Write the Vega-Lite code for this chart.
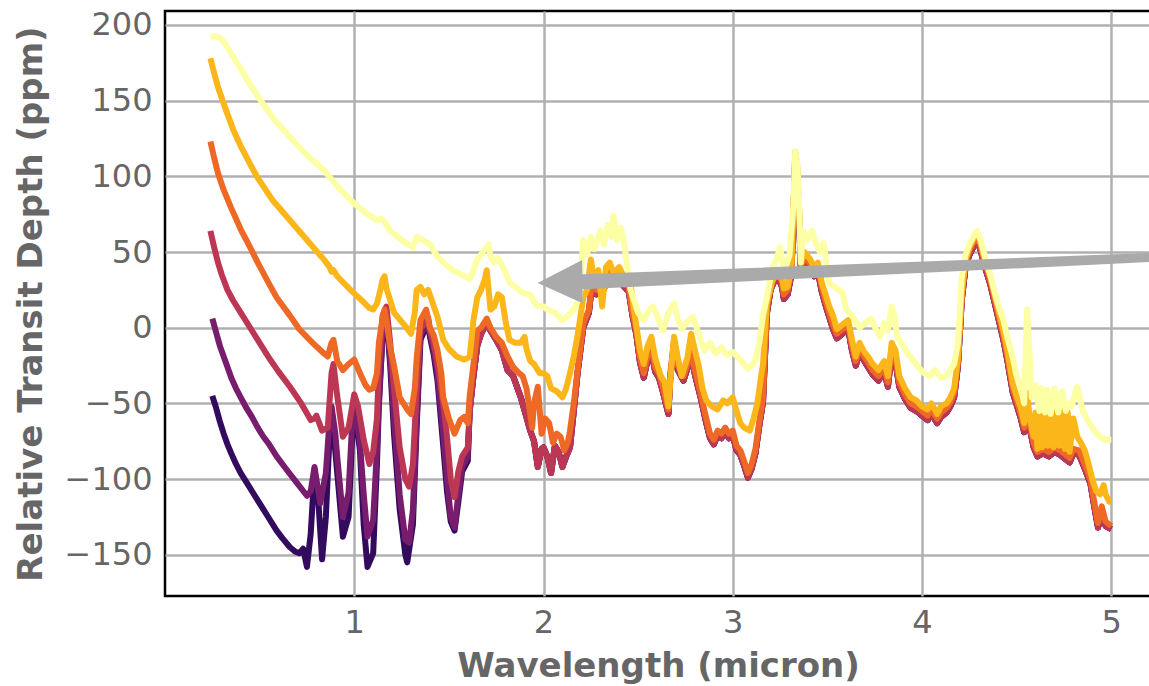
{
"$schema":"https://vega.github.io/schema/vega-lite/v6.json",
"width":986,"height":585,
"autosize":{"type":"none"},
"padding":{"left":165,"top":11,"right":0,"bottom":90},
"background":"white",
"config":{"view":{"stroke":"black","strokeWidth":2.5},"font":"DejaVu Sans"},
"datasets":{
"arrow":[{"w":2.211,"d":30.4},{"w":5.2,"d":46.4}],
"head":[{"w":2.088,"d":30.5}],
"spectra":[
{"s":"a","w":0.25,"d":-45},{"s":"a","w":0.27,"d":-53},{"s":"a","w":0.29,"d":-62},{"s":"a","w":0.31,"d":-70},{"s":"a","w":0.33,"d":-77},{"s":"a","w":0.35,"d":-83},{"s":"a","w":0.375,"d":-90},{"s":"a","w":0.40,"d":-96},{"s":"a","w":0.43,"d":-102},{"s":"a","w":0.46,"d":-108},{"s":"a","w":0.49,"d":-114},{"s":"a","w":0.52,"d":-120},{"s":"a","w":0.55,"d":-126},{"s":"a","w":0.59,"d":-134},{"s":"a","w":0.62,"d":-139},{"s":"a","w":0.66,"d":-145},{"s":"a","w":0.69,"d":-148},{"s":"a","w":0.71,"d":-149},{"s":"a","w":0.73,"d":-146},{"s":"a","w":0.75,"d":-158},{"s":"a","w":0.77,"d":-136},{"s":"a","w":0.79,"d":-94},{"s":"a","w":0.81,"d":-114},{"s":"a","w":0.83,"d":-153},{"s":"a","w":0.85,"d":-125},{"s":"a","w":0.87,"d":-70},{"s":"a","w":0.88,"d":-54},{"s":"a","w":0.91,"d":-96},{"s":"a","w":0.94,"d":-138},{"s":"a","w":0.97,"d":-125},{"s":"a","w":0.99,"d":-70},{"s":"a","w":1.00,"d":-52},{"s":"a","w":1.03,"d":-81},{"s":"a","w":1.05,"d":-130},{"s":"a","w":1.07,"d":-158},{"s":"a","w":1.10,"d":-149},{"s":"a","w":1.12,"d":-90},{"s":"a","w":1.13,"d":-52},{"s":"a","w":1.15,"d":-4},{"s":"a","w":1.17,"d":8},{"s":"a","w":1.19,"d":-25},{"s":"a","w":1.21,"d":-70},{"s":"a","w":1.24,"d":-120},{"s":"a","w":1.27,"d":-150},{"s":"a","w":1.28,"d":-155},{"s":"a","w":1.31,"d":-130},{"s":"a","w":1.33,"d":-65},{"s":"a","w":1.35,"d":-8},{"s":"a","w":1.37,"d":-2},{"s":"a","w":1.39,"d":2},{"s":"a","w":1.40,"d":-6},{"s":"a","w":1.42,"d":-18},{"s":"a","w":1.44,"d":-35},{"s":"a","w":1.47,"d":-78},{"s":"a","w":1.49,"d":-108},{"s":"a","w":1.51,"d":-128},{"s":"a","w":1.53,"d":-134},{"s":"a","w":1.55,"d":-115},{"s":"a","w":1.57,"d":-95},{"s":"a","w":1.60,"d":-88},
{"s":"a","w":1.61,"d":-55},{"s":"a","w":1.63,"d":-32},{"s":"a","w":1.65,"d":-12},{"s":"a","w":1.67,"d":-4},{"s":"a","w":1.70,"d":3},{"s":"a","w":1.72,"d":-2},{"s":"a","w":1.75,"d":-8},{"s":"a","w":1.78,"d":-15},{"s":"a","w":1.81,"d":-28},{"s":"a","w":1.84,"d":-32},{"s":"a","w":1.88,"d":-46},{"s":"a","w":1.91,"d":-59},{"s":"a","w":1.93,"d":-68},{"s":"a","w":1.95,"d":-75},{"s":"a","w":1.97,"d":-92},{"s":"a","w":1.99,"d":-80},{"s":"a","w":2.00,"d":-79},{"s":"a","w":2.02,"d":-85},{"s":"a","w":2.04,"d":-96},{"s":"a","w":2.06,"d":-78},{"s":"a","w":2.08,"d":-82},{"s":"a","w":2.10,"d":-92},{"s":"a","w":2.12,"d":-85},{"s":"a","w":2.14,"d":-79},{"s":"a","w":2.16,"d":-55},{"s":"a","w":2.18,"d":-30},{"s":"a","w":2.21,"d":0},{"s":"a","w":2.24,"d":10},{"s":"a","w":2.26,"d":33},{"s":"a","w":2.28,"d":22},{"s":"a","w":2.30,"d":28},{"s":"a","w":2.32,"d":26},{"s":"a","w":2.35,"d":35},{"s":"a","w":2.37,"d":30},{"s":"a","w":2.40,"d":33},{"s":"a","w":2.42,"d":28},{"s":"a","w":2.45,"d":24},{"s":"a","w":2.47,"d":8},{"s":"a","w":2.49,"d":-4},{"s":"a","w":2.51,"d":-23},{"s":"a","w":2.53,"d":-33},{"s":"a","w":2.55,"d":-21},{"s":"a","w":2.57,"d":-16},{"s":"a","w":2.59,"d":-29},{"s":"a","w":2.61,"d":-33},{"s":"a","w":2.63,"d":-42},{"s":"a","w":2.66,"d":-57},{"s":"a","w":2.67,"d":-33},{"s":"a","w":2.69,"d":-11},{"s":"a","w":2.71,"d":-28},{"s":"a","w":2.74,"d":-35},{"s":"a","w":2.76,"d":-27},{"s":"a","w":2.78,"d":-18},{"s":"a","w":2.80,"d":-31},{"s":"a","w":2.83,"d":-46},{"s":"a","w":2.86,"d":-63},{"s":"a","w":2.88,"d":-73},{"s":"a","w":2.90,"d":-77},{"s":"a","w":2.92,"d":-71},{"s":"a","w":2.94,"d":-73},{"s":"a","w":2.96,"d":-69},{"s":"a","w":2.98,"d":-73},{"s":"a","w":3.00,"d":-71},{"s":"a","w":3.02,"d":-81},{"s":"a","w":3.04,"d":-84},{"s":"a","w":3.06,"d":-91},{"s":"a","w":3.08,"d":-99},{"s":"a","w":3.10,"d":-93},{"s":"a","w":3.12,"d":-83},{"s":"a","w":3.14,"d":-65},{"s":"a","w":3.16,"d":-49},{"s":"a","w":3.18,"d":9},{"s":"a","w":3.20,"d":25},{"s":"a","w":3.22,"d":31},{"s":"a","w":3.24,"d":33},{"s":"a","w":3.26,"d":27},{"s":"a","w":3.27,"d":19},{"s":"a","w":3.29,"d":22},{"s":"a","w":3.31,"d":35},{"s":"a","w":3.33,"d":111},{"s":"a","w":3.34,"d":102},{"s":"a","w":3.35,"d":75},{"s":"a","w":3.36,"d":37},{"s":"a","w":3.38,"d":44},{"s":"a","w":3.41,"d":39},{"s":"a","w":3.43,"d":34},{"s":"a","w":3.45,"d":37},{"s":"a","w":3.47,"d":24},{"s":"a","w":3.49,"d":15},{"s":"a","w":3.51,"d":7},{"s":"a","w":3.53,"d":-1},{"s":"a","w":3.55,"d":-7},{"s":"a","w":3.58,"d":-4},{"s":"a","w":3.61,"d":-1},{"s":"a","w":3.63,"d":-15},{"s":"a","w":3.65,"d":-25},{"s":"a","w":3.67,"d":-16},{"s":"a","w":3.69,"d":-21},{"s":"a","w":3.72,"d":-27},{"s":"a","w":3.74,"d":-31},{"s":"a","w":3.77,"d":-35},{"s":"a","w":3.80,"d":-29},{"s":"a","w":3.82,"d":-39},{"s":"a","w":3.84,"d":-17},{"s":"a","w":3.86,"d":-23},{"s":"a","w":3.88,"d":-39},{"s":"a","w":3.91,"d":-47},{"s":"a","w":3.94,"d":-53},{"s":"a","w":3.97,"d":-55},{"s":"a","w":4.00,"d":-58},{"s":"a","w":4.03,"d":-61},{"s":"a","w":4.05,"d":-57},{"s":"a","w":4.08,"d":-63},{"s":"a","w":4.10,"d":-59},{"s":"a","w":4.13,"d":-56},{"s":"a","w":4.15,"d":-52},{"s":"a","w":4.17,"d":-46},{"s":"a","w":4.19,"d":-25},{"s":"a","w":4.21,"d":18},{"s":"a","w":4.23,"d":40},{"s":"a","w":4.25,"d":48},{"s":"a","w":4.27,"d":53},{"s":"a","w":4.29,"d":58},{"s":"a","w":4.31,"d":51},{"s":"a","w":4.33,"d":41},{"s":"a","w":4.36,"d":29},{"s":"a","w":4.40,"d":8},{"s":"a","w":4.43,"d":-8},{"s":"a","w":4.45,"d":-21},{"s":"a","w":4.48,"d":-43},{"s":"a","w":4.50,"d":-51},{"s":"a","w":4.52,"d":-59},{"s":"a","w":4.54,"d":-69},{"s":"a","w":4.555,"d":-50},{"s":"a","w":4.57,"d":-67},{"s":"a","w":4.59,"d":-79},{"s":"a","w":4.61,"d":-85},{"s":"a","w":4.64,"d":-83},{"s":"a","w":4.67,"d":-85},{"s":"a","w":4.70,"d":-82},{"s":"a","w":4.73,"d":-84},{"s":"a","w":4.76,"d":-87},{"s":"a","w":4.78,"d":-89},{"s":"a","w":4.80,"d":-83},{"s":"a","w":4.83,"d":-84},{"s":"a","w":4.86,"d":-93},{"s":"a","w":4.89,"d":-103},{"s":"a","w":4.91,"d":-118},{"s":"a","w":4.93,"d":-132},{"s":"a","w":4.95,"d":-121},{"s":"a","w":4.97,"d":-131},{"s":"a","w":5.00,"d":-133},
{"s":"b","w":0.25,"d":6},{"s":"b","w":0.27,"d":-3},{"s":"b","w":0.29,"d":-12},{"s":"b","w":0.31,"d":-19},{"s":"b","w":0.33,"d":-26},{"s":"b","w":0.35,"d":-33},{"s":"b","w":0.375,"d":-40},{"s":"b","w":0.40,"d":-46},{"s":"b","w":0.43,"d":-53},{"s":"b","w":0.46,"d":-59},{"s":"b","w":0.49,"d":-66},{"s":"b","w":0.52,"d":-72},{"s":"b","w":0.55,"d":-77},{"s":"b","w":0.59,"d":-85},{"s":"b","w":0.62,"d":-90},{"s":"b","w":0.65,"d":-95},{"s":"b","w":0.70,"d":-103},{"s":"b","w":0.75,"d":-111},{"s":"b","w":0.77,"d":-108},{"s":"b","w":0.79,"d":-92},{"s":"b","w":0.80,"d":-100},{"s":"b","w":0.82,"d":-116},{"s":"b","w":0.85,"d":-96},{"s":"b","w":0.87,"d":-60},{"s":"b","w":0.88,"d":-52},{"s":"b","w":0.90,"d":-70},{"s":"b","w":0.91,"d":-85},{"s":"b","w":0.94,"d":-125},{"s":"b","w":0.97,"d":-109},{"s":"b","w":0.99,"d":-60},{"s":"b","w":1.00,"d":-48},{"s":"b","w":1.03,"d":-76},{"s":"b","w":1.05,"d":-110},{"s":"b","w":1.07,"d":-138},{"s":"b","w":1.10,"d":-127},{"s":"b","w":1.12,"d":-80},{"s":"b","w":1.13,"d":-48},{"s":"b","w":1.15,"d":-4},{"s":"b","w":1.17,"d":10},{"s":"b","w":1.19,"d":-20},{"s":"b","w":1.21,"d":-60},{"s":"b","w":1.24,"d":-110},{"s":"b","w":1.27,"d":-140},{"s":"b","w":1.29,"d":-142},{"s":"b","w":1.31,"d":-120},{"s":"b","w":1.33,"d":-60},{"s":"b","w":1.35,"d":-5},{"s":"b","w":1.37,"d":0},{"s":"b","w":1.39,"d":4},{"s":"b","w":1.40,"d":-4},{"s":"b","w":1.42,"d":-15},{"s":"b","w":1.44,"d":-30},{"s":"b","w":1.47,"d":-70},{"s":"b","w":1.49,"d":-100},{"s":"b","w":1.51,"d":-125},{"s":"b","w":1.53,"d":-132},{"s":"b","w":1.55,"d":-110},{"s":"b","w":1.57,"d":-92},{"s":"b","w":1.60,"d":-85},
{"s":"b","w":1.61,"d":-55},{"s":"b","w":1.63,"d":-32},{"s":"b","w":1.65,"d":-12},{"s":"b","w":1.67,"d":-4},{"s":"b","w":1.70,"d":3},{"s":"b","w":1.72,"d":-2},{"s":"b","w":1.75,"d":-8},{"s":"b","w":1.78,"d":-15},{"s":"b","w":1.81,"d":-28},{"s":"b","w":1.84,"d":-32},{"s":"b","w":1.88,"d":-46},{"s":"b","w":1.91,"d":-59},{"s":"b","w":1.93,"d":-68},{"s":"b","w":1.95,"d":-75},{"s":"b","w":1.97,"d":-92},{"s":"b","w":1.99,"d":-80},{"s":"b","w":2.00,"d":-79},{"s":"b","w":2.02,"d":-85},{"s":"b","w":2.04,"d":-96},{"s":"b","w":2.06,"d":-78},{"s":"b","w":2.08,"d":-82},{"s":"b","w":2.10,"d":-92},{"s":"b","w":2.12,"d":-85},{"s":"b","w":2.14,"d":-79},{"s":"b","w":2.16,"d":-55},{"s":"b","w":2.18,"d":-30},{"s":"b","w":2.21,"d":0},{"s":"b","w":2.24,"d":10},{"s":"b","w":2.26,"d":33},{"s":"b","w":2.28,"d":22},{"s":"b","w":2.30,"d":28},{"s":"b","w":2.32,"d":26},{"s":"b","w":2.35,"d":35},{"s":"b","w":2.37,"d":30},{"s":"b","w":2.40,"d":33},{"s":"b","w":2.42,"d":28},{"s":"b","w":2.45,"d":24},{"s":"b","w":2.47,"d":8},{"s":"b","w":2.49,"d":-4},{"s":"b","w":2.51,"d":-23},{"s":"b","w":2.53,"d":-33},{"s":"b","w":2.55,"d":-21},{"s":"b","w":2.57,"d":-16},{"s":"b","w":2.59,"d":-29},{"s":"b","w":2.61,"d":-33},{"s":"b","w":2.63,"d":-42},{"s":"b","w":2.66,"d":-57},{"s":"b","w":2.67,"d":-33},{"s":"b","w":2.69,"d":-11},{"s":"b","w":2.71,"d":-28},{"s":"b","w":2.74,"d":-35},{"s":"b","w":2.76,"d":-27},{"s":"b","w":2.78,"d":-18},{"s":"b","w":2.80,"d":-31},{"s":"b","w":2.83,"d":-46},{"s":"b","w":2.86,"d":-63},{"s":"b","w":2.88,"d":-73},{"s":"b","w":2.90,"d":-77},{"s":"b","w":2.92,"d":-71},{"s":"b","w":2.94,"d":-73},{"s":"b","w":2.96,"d":-69},{"s":"b","w":2.98,"d":-73},{"s":"b","w":3.00,"d":-71},{"s":"b","w":3.02,"d":-81},{"s":"b","w":3.04,"d":-84},{"s":"b","w":3.06,"d":-91},{"s":"b","w":3.08,"d":-99},{"s":"b","w":3.10,"d":-93},{"s":"b","w":3.12,"d":-83},{"s":"b","w":3.14,"d":-65},{"s":"b","w":3.16,"d":-49},{"s":"b","w":3.18,"d":9},{"s":"b","w":3.20,"d":25},{"s":"b","w":3.22,"d":31},{"s":"b","w":3.24,"d":33},{"s":"b","w":3.26,"d":27},{"s":"b","w":3.27,"d":19},{"s":"b","w":3.29,"d":22},{"s":"b","w":3.31,"d":35},{"s":"b","w":3.33,"d":111},{"s":"b","w":3.34,"d":102},{"s":"b","w":3.35,"d":75},{"s":"b","w":3.36,"d":37},{"s":"b","w":3.38,"d":44},{"s":"b","w":3.41,"d":39},{"s":"b","w":3.43,"d":34},{"s":"b","w":3.45,"d":37},{"s":"b","w":3.47,"d":24},{"s":"b","w":3.49,"d":15},{"s":"b","w":3.51,"d":7},{"s":"b","w":3.53,"d":-1},{"s":"b","w":3.55,"d":-7},{"s":"b","w":3.58,"d":-4},{"s":"b","w":3.61,"d":-1},{"s":"b","w":3.63,"d":-15},{"s":"b","w":3.65,"d":-25},{"s":"b","w":3.67,"d":-16},{"s":"b","w":3.69,"d":-21},{"s":"b","w":3.72,"d":-27},{"s":"b","w":3.74,"d":-31},{"s":"b","w":3.77,"d":-35},{"s":"b","w":3.80,"d":-29},{"s":"b","w":3.82,"d":-39},{"s":"b","w":3.84,"d":-17},{"s":"b","w":3.86,"d":-23},{"s":"b","w":3.88,"d":-39},{"s":"b","w":3.91,"d":-47},{"s":"b","w":3.94,"d":-53},{"s":"b","w":3.97,"d":-55},{"s":"b","w":4.00,"d":-58},{"s":"b","w":4.03,"d":-61},{"s":"b","w":4.05,"d":-57},{"s":"b","w":4.08,"d":-63},{"s":"b","w":4.10,"d":-59},{"s":"b","w":4.13,"d":-56},{"s":"b","w":4.15,"d":-52},{"s":"b","w":4.17,"d":-46},{"s":"b","w":4.19,"d":-25},{"s":"b","w":4.21,"d":18},{"s":"b","w":4.23,"d":40},{"s":"b","w":4.25,"d":48},{"s":"b","w":4.27,"d":53},{"s":"b","w":4.29,"d":58},{"s":"b","w":4.31,"d":51},{"s":"b","w":4.33,"d":41},{"s":"b","w":4.36,"d":29},{"s":"b","w":4.40,"d":8},{"s":"b","w":4.43,"d":-8},{"s":"b","w":4.45,"d":-21},{"s":"b","w":4.48,"d":-43},{"s":"b","w":4.50,"d":-51},{"s":"b","w":4.52,"d":-59},{"s":"b","w":4.54,"d":-69},{"s":"b","w":4.555,"d":-50},{"s":"b","w":4.57,"d":-67},{"s":"b","w":4.59,"d":-79},{"s":"b","w":4.61,"d":-85},{"s":"b","w":4.64,"d":-83},{"s":"b","w":4.67,"d":-85},{"s":"b","w":4.70,"d":-82},{"s":"b","w":4.73,"d":-84},{"s":"b","w":4.76,"d":-87},{"s":"b","w":4.78,"d":-89},{"s":"b","w":4.80,"d":-83},{"s":"b","w":4.83,"d":-84},{"s":"b","w":4.86,"d":-93},{"s":"b","w":4.89,"d":-103},{"s":"b","w":4.91,"d":-118},{"s":"b","w":4.93,"d":-132},{"s":"b","w":4.95,"d":-121},{"s":"b","w":4.97,"d":-131},{"s":"b","w":5.00,"d":-133},
{"s":"c","w":0.24,"d":64},{"s":"c","w":0.26,"d":53},{"s":"c","w":0.28,"d":43},{"s":"c","w":0.30,"d":35},{"s":"c","w":0.33,"d":25},{"s":"c","w":0.36,"d":18},{"s":"c","w":0.40,"d":10},{"s":"c","w":0.45,"d":0},{"s":"c","w":0.49,"d":-8},{"s":"c","w":0.55,"d":-20},{"s":"c","w":0.60,"d":-29},{"s":"c","w":0.66,"d":-39},{"s":"c","w":0.72,"d":-50},{"s":"c","w":0.77,"d":-61},{"s":"c","w":0.79,"d":-60},{"s":"c","w":0.80,"d":-58},{"s":"c","w":0.83,"d":-68},{"s":"c","w":0.86,"d":-66},{"s":"c","w":0.88,"d":-30},{"s":"c","w":0.89,"d":-24},{"s":"c","w":0.91,"d":-45},{"s":"c","w":0.94,"d":-72},{"s":"c","w":0.97,"d":-66},{"s":"c","w":1.00,"d":-44},{"s":"c","w":1.02,"d":-52},{"s":"c","w":1.05,"d":-74},{"s":"c","w":1.08,"d":-90},{"s":"c","w":1.10,"d":-82},{"s":"c","w":1.12,"d":-60},{"s":"c","w":1.13,"d":-26},{"s":"c","w":1.15,"d":8},{"s":"c","w":1.17,"d":14},{"s":"c","w":1.19,"d":-10},{"s":"c","w":1.21,"d":-40},{"s":"c","w":1.24,"d":-79},{"s":"c","w":1.27,"d":-100},{"s":"c","w":1.29,"d":-105},{"s":"c","w":1.31,"d":-90},{"s":"c","w":1.33,"d":-40},{"s":"c","w":1.35,"d":0},{"s":"c","w":1.37,"d":2},{"s":"c","w":1.39,"d":7},{"s":"c","w":1.40,"d":-2},{"s":"c","w":1.42,"d":-10},{"s":"c","w":1.44,"d":-24},{"s":"c","w":1.47,"d":-50},{"s":"c","w":1.49,"d":-72},{"s":"c","w":1.51,"d":-100},{"s":"c","w":1.53,"d":-112},{"s":"c","w":1.55,"d":-95},{"s":"c","w":1.57,"d":-85},{"s":"c","w":1.60,"d":-79},
{"s":"c","w":1.61,"d":-55},{"s":"c","w":1.63,"d":-32},{"s":"c","w":1.65,"d":-12},{"s":"c","w":1.67,"d":-4},{"s":"c","w":1.70,"d":3},{"s":"c","w":1.72,"d":-2},{"s":"c","w":1.75,"d":-8},{"s":"c","w":1.78,"d":-15},{"s":"c","w":1.81,"d":-28},{"s":"c","w":1.84,"d":-32},{"s":"c","w":1.88,"d":-46},{"s":"c","w":1.91,"d":-59},{"s":"c","w":1.93,"d":-68},{"s":"c","w":1.95,"d":-75},{"s":"c","w":1.97,"d":-92},{"s":"c","w":1.99,"d":-80},{"s":"c","w":2.00,"d":-79},{"s":"c","w":2.02,"d":-85},{"s":"c","w":2.04,"d":-96},{"s":"c","w":2.06,"d":-78},{"s":"c","w":2.08,"d":-82},{"s":"c","w":2.10,"d":-92},{"s":"c","w":2.12,"d":-85},{"s":"c","w":2.14,"d":-79},{"s":"c","w":2.16,"d":-55},{"s":"c","w":2.18,"d":-30},{"s":"c","w":2.21,"d":0},{"s":"c","w":2.24,"d":10},{"s":"c","w":2.26,"d":33},{"s":"c","w":2.28,"d":22},{"s":"c","w":2.30,"d":28},{"s":"c","w":2.32,"d":26},{"s":"c","w":2.35,"d":35},{"s":"c","w":2.37,"d":30},{"s":"c","w":2.40,"d":33},{"s":"c","w":2.42,"d":28},{"s":"c","w":2.45,"d":24},{"s":"c","w":2.47,"d":8},{"s":"c","w":2.49,"d":-4},{"s":"c","w":2.51,"d":-23},{"s":"c","w":2.53,"d":-33},{"s":"c","w":2.55,"d":-21},{"s":"c","w":2.57,"d":-16},{"s":"c","w":2.59,"d":-29},{"s":"c","w":2.61,"d":-33},{"s":"c","w":2.63,"d":-42},{"s":"c","w":2.66,"d":-57},{"s":"c","w":2.67,"d":-33},{"s":"c","w":2.69,"d":-11},{"s":"c","w":2.71,"d":-28},{"s":"c","w":2.74,"d":-35},{"s":"c","w":2.76,"d":-27},{"s":"c","w":2.78,"d":-18},{"s":"c","w":2.80,"d":-31},{"s":"c","w":2.83,"d":-46},{"s":"c","w":2.86,"d":-63},{"s":"c","w":2.88,"d":-73},{"s":"c","w":2.90,"d":-77},{"s":"c","w":2.92,"d":-71},{"s":"c","w":2.94,"d":-73},{"s":"c","w":2.96,"d":-69},{"s":"c","w":2.98,"d":-73},{"s":"c","w":3.00,"d":-71},{"s":"c","w":3.02,"d":-81},{"s":"c","w":3.04,"d":-84},{"s":"c","w":3.06,"d":-91},{"s":"c","w":3.08,"d":-99},{"s":"c","w":3.10,"d":-93},{"s":"c","w":3.12,"d":-83},{"s":"c","w":3.14,"d":-65},{"s":"c","w":3.16,"d":-49},{"s":"c","w":3.18,"d":9},{"s":"c","w":3.20,"d":25},{"s":"c","w":3.22,"d":31},{"s":"c","w":3.24,"d":33},{"s":"c","w":3.26,"d":27},{"s":"c","w":3.27,"d":19},{"s":"c","w":3.29,"d":22},{"s":"c","w":3.31,"d":35},{"s":"c","w":3.33,"d":111},{"s":"c","w":3.34,"d":102},{"s":"c","w":3.35,"d":75},{"s":"c","w":3.36,"d":37},{"s":"c","w":3.38,"d":44},{"s":"c","w":3.41,"d":39},{"s":"c","w":3.43,"d":34},{"s":"c","w":3.45,"d":37},{"s":"c","w":3.47,"d":24},{"s":"c","w":3.49,"d":15},{"s":"c","w":3.51,"d":7},{"s":"c","w":3.53,"d":-1},{"s":"c","w":3.55,"d":-7},{"s":"c","w":3.58,"d":-4},{"s":"c","w":3.61,"d":-1},{"s":"c","w":3.63,"d":-15},{"s":"c","w":3.65,"d":-25},{"s":"c","w":3.67,"d":-16},{"s":"c","w":3.69,"d":-21},{"s":"c","w":3.72,"d":-27},{"s":"c","w":3.74,"d":-31},{"s":"c","w":3.77,"d":-35},{"s":"c","w":3.80,"d":-29},{"s":"c","w":3.82,"d":-39},{"s":"c","w":3.84,"d":-17},{"s":"c","w":3.86,"d":-23},{"s":"c","w":3.88,"d":-39},{"s":"c","w":3.91,"d":-47},{"s":"c","w":3.94,"d":-53},{"s":"c","w":3.97,"d":-55},{"s":"c","w":4.00,"d":-58},{"s":"c","w":4.03,"d":-61},{"s":"c","w":4.05,"d":-57},{"s":"c","w":4.08,"d":-63},{"s":"c","w":4.10,"d":-59},{"s":"c","w":4.13,"d":-56},{"s":"c","w":4.15,"d":-52},{"s":"c","w":4.17,"d":-46},{"s":"c","w":4.19,"d":-25},{"s":"c","w":4.21,"d":18},{"s":"c","w":4.23,"d":40},{"s":"c","w":4.25,"d":48},{"s":"c","w":4.27,"d":53},{"s":"c","w":4.29,"d":58},{"s":"c","w":4.31,"d":51},{"s":"c","w":4.33,"d":41},{"s":"c","w":4.36,"d":29},{"s":"c","w":4.40,"d":8},{"s":"c","w":4.43,"d":-8},{"s":"c","w":4.45,"d":-21},{"s":"c","w":4.48,"d":-43},{"s":"c","w":4.50,"d":-51},{"s":"c","w":4.52,"d":-59},{"s":"c","w":4.54,"d":-69},{"s":"c","w":4.555,"d":-50},{"s":"c","w":4.57,"d":-67},{"s":"c","w":4.59,"d":-79},{"s":"c","w":4.61,"d":-85},{"s":"c","w":4.64,"d":-83},{"s":"c","w":4.67,"d":-85},{"s":"c","w":4.70,"d":-82},{"s":"c","w":4.73,"d":-84},{"s":"c","w":4.76,"d":-87},{"s":"c","w":4.78,"d":-89},{"s":"c","w":4.80,"d":-83},{"s":"c","w":4.83,"d":-84},{"s":"c","w":4.86,"d":-93},{"s":"c","w":4.89,"d":-103},{"s":"c","w":4.91,"d":-118},{"s":"c","w":4.93,"d":-132},{"s":"c","w":4.95,"d":-121},{"s":"c","w":4.97,"d":-131},{"s":"c","w":5.00,"d":-133},
{"s":"d","w":0.24,"d":123},{"s":"d","w":0.26,"d":112},{"s":"d","w":0.28,"d":102},{"s":"d","w":0.31,"d":91},{"s":"d","w":0.35,"d":79},{"s":"d","w":0.40,"d":65},{"s":"d","w":0.45,"d":53},{"s":"d","w":0.49,"d":43},{"s":"d","w":0.55,"d":29},{"s":"d","w":0.59,"d":20},{"s":"d","w":0.66,"d":8},{"s":"d","w":0.71,"d":-1},{"s":"d","w":0.78,"d":-10},{"s":"d","w":0.84,"d":-17},{"s":"d","w":0.86,"d":-19},{"s":"d","w":0.88,"d":-10},{"s":"d","w":0.89,"d":-8},{"s":"d","w":0.91,"d":-22},{"s":"d","w":0.94,"d":-28},{"s":"d","w":0.97,"d":-24},{"s":"d","w":1.00,"d":-21},{"s":"d","w":1.03,"d":-30},{"s":"d","w":1.06,"d":-38},{"s":"d","w":1.08,"d":-41},{"s":"d","w":1.10,"d":-40},{"s":"d","w":1.12,"d":-30},{"s":"d","w":1.13,"d":-10},{"s":"d","w":1.15,"d":7},{"s":"d","w":1.16,"d":12},{"s":"d","w":1.17,"d":5},{"s":"d","w":1.19,"d":-13},{"s":"d","w":1.21,"d":-25},{"s":"d","w":1.24,"d":-46},{"s":"d","w":1.28,"d":-54},{"s":"d","w":1.30,"d":-57},{"s":"d","w":1.32,"d":-40},{"s":"d","w":1.33,"d":-20},{"s":"d","w":1.35,"d":5},{"s":"d","w":1.38,"d":12},{"s":"d","w":1.40,"d":0},{"s":"d","w":1.42,"d":-5},{"s":"d","w":1.44,"d":-15},{"s":"d","w":1.46,"d":-30},{"s":"d","w":1.47,"d":-46},{"s":"d","w":1.50,"d":-60},{"s":"d","w":1.53,"d":-70},{"s":"d","w":1.56,"d":-61},{"s":"d","w":1.58,"d":-59},{"s":"d","w":1.60,"d":-63},{"s":"d","w":1.61,"d":-45},{"s":"d","w":1.63,"d":-24},{"s":"d","w":1.65,"d":-2},{"s":"d","w":1.67,"d":0},{"s":"d","w":1.70,"d":6},{"s":"d","w":1.72,"d":0},{"s":"d","w":1.75,"d":-6},{"s":"d","w":1.78,"d":-10},{"s":"d","w":1.81,"d":-19},{"s":"d","w":1.84,"d":-26},{"s":"d","w":1.87,"d":-30},{"s":"d","w":1.89,"d":-32},{"s":"d","w":1.91,"d":-40},{"s":"d","w":1.94,"d":-66},{"s":"d","w":1.95,"d":-50},{"s":"d","w":1.97,"d":-39},{"s":"d","w":1.99,"d":-70},{"s":"d","w":2.01,"d":-60},{"s":"d","w":2.03,"d":-63},{"s":"d","w":2.05,"d":-76},{"s":"d","w":2.07,"d":-70},{"s":"d","w":2.09,"d":-72},{"s":"d","w":2.11,"d":-81},{"s":"d","w":2.13,"d":-75},{"s":"d","w":2.14,"d":-68},{"s":"d","w":2.16,"d":-50},{"s":"d","w":2.18,"d":-28},{"s":"d","w":2.21,"d":3},{"s":"d","w":2.24,"d":12},{"s":"d","w":2.26,"d":36},{"s":"d","w":2.28,"d":25},{"s":"d","w":2.30,"d":30},{"s":"d","w":2.32,"d":29},{"s":"d","w":2.35,"d":38},{"s":"d","w":2.37,"d":32},{"s":"d","w":2.40,"d":36},{"s":"d","w":2.42,"d":30},{"s":"d","w":2.45,"d":27},{"s":"d","w":2.47,"d":10},{"s":"d","w":2.49,"d":-1},{"s":"d","w":2.51,"d":-20},{"s":"d","w":2.53,"d":-30},{"s":"d","w":2.55,"d":-18},{"s":"d","w":2.57,"d":-13},{"s":"d","w":2.59,"d":-26},{"s":"d","w":2.61,"d":-30},{"s":"d","w":2.63,"d":-39},{"s":"d","w":2.66,"d":-54},{"s":"d","w":2.67,"d":-30},{"s":"d","w":2.69,"d":-8},{"s":"d","w":2.71,"d":-25},{"s":"d","w":2.74,"d":-32},{"s":"d","w":2.76,"d":-24},{"s":"d","w":2.78,"d":-15},{"s":"d","w":2.80,"d":-28},{"s":"d","w":2.83,"d":-43},{"s":"d","w":2.86,"d":-60},{"s":"d","w":2.88,"d":-70},{"s":"d","w":2.90,"d":-74},{"s":"d","w":2.92,"d":-68},{"s":"d","w":2.94,"d":-70},{"s":"d","w":2.96,"d":-66},{"s":"d","w":2.98,"d":-70},{"s":"d","w":3.00,"d":-68},{"s":"d","w":3.02,"d":-78},{"s":"d","w":3.04,"d":-81},{"s":"d","w":3.06,"d":-88},{"s":"d","w":3.08,"d":-96},{"s":"d","w":3.10,"d":-90},{"s":"d","w":3.12,"d":-80},{"s":"d","w":3.14,"d":-62},{"s":"d","w":3.16,"d":-46},{"s":"d","w":3.18,"d":12},{"s":"d","w":3.20,"d":28},{"s":"d","w":3.22,"d":34},{"s":"d","w":3.24,"d":36},{"s":"d","w":3.26,"d":30},{"s":"d","w":3.27,"d":22},{"s":"d","w":3.29,"d":25},{"s":"d","w":3.31,"d":38},{"s":"d","w":3.33,"d":114},{"s":"d","w":3.34,"d":105},{"s":"d","w":3.35,"d":78},{"s":"d","w":3.36,"d":40},{"s":"d","w":3.38,"d":47},{"s":"d","w":3.41,"d":42},{"s":"d","w":3.43,"d":37},{"s":"d","w":3.45,"d":40},{"s":"d","w":3.47,"d":27},{"s":"d","w":3.49,"d":18},{"s":"d","w":3.51,"d":10},{"s":"d","w":3.53,"d":2},{"s":"d","w":3.55,"d":-4},{"s":"d","w":3.58,"d":-1},{"s":"d","w":3.61,"d":2},{"s":"d","w":3.63,"d":-12},{"s":"d","w":3.65,"d":-22},{"s":"d","w":3.67,"d":-13},{"s":"d","w":3.69,"d":-18},{"s":"d","w":3.72,"d":-24},{"s":"d","w":3.74,"d":-28},{"s":"d","w":3.77,"d":-32},{"s":"d","w":3.80,"d":-26},{"s":"d","w":3.82,"d":-36},{"s":"d","w":3.84,"d":-14},{"s":"d","w":3.86,"d":-20},{"s":"d","w":3.88,"d":-36},{"s":"d","w":3.91,"d":-44},{"s":"d","w":3.94,"d":-50},{"s":"d","w":3.97,"d":-52},{"s":"d","w":4.00,"d":-55},{"s":"d","w":4.03,"d":-58},{"s":"d","w":4.05,"d":-54},{"s":"d","w":4.08,"d":-60},{"s":"d","w":4.10,"d":-56},{"s":"d","w":4.13,"d":-53},{"s":"d","w":4.15,"d":-49},{"s":"d","w":4.17,"d":-43},{"s":"d","w":4.19,"d":-22},{"s":"d","w":4.21,"d":21},{"s":"d","w":4.23,"d":43},{"s":"d","w":4.25,"d":51},{"s":"d","w":4.27,"d":56},{"s":"d","w":4.29,"d":61},{"s":"d","w":4.31,"d":54},{"s":"d","w":4.33,"d":44},{"s":"d","w":4.36,"d":32},{"s":"d","w":4.40,"d":11},{"s":"d","w":4.43,"d":-5},{"s":"d","w":4.45,"d":-18},{"s":"d","w":4.48,"d":-40},{"s":"d","w":4.50,"d":-48},{"s":"d","w":4.52,"d":-56},{"s":"d","w":4.54,"d":-66},{"s":"d","w":4.555,"d":-47},{"s":"d","w":4.57,"d":-64},{"s":"d","w":4.59,"d":-76},{"s":"d","w":4.61,"d":-82},{"s":"d","w":4.64,"d":-80},{"s":"d","w":4.67,"d":-82},{"s":"d","w":4.70,"d":-79},{"s":"d","w":4.73,"d":-81},{"s":"d","w":4.76,"d":-84},{"s":"d","w":4.78,"d":-86},{"s":"d","w":4.80,"d":-80},{"s":"d","w":4.83,"d":-81},{"s":"d","w":4.86,"d":-90},{"s":"d","w":4.89,"d":-100},{"s":"d","w":4.91,"d":-115},{"s":"d","w":4.93,"d":-129},{"s":"d","w":4.95,"d":-118},{"s":"d","w":4.97,"d":-128},{"s":"d","w":5.00,"d":-131},
{"s":"e","w":0.24,"d":178},{"s":"e","w":0.26,"d":168},{"s":"e","w":0.28,"d":159},{"s":"e","w":0.31,"d":148},{"s":"e","w":0.36,"d":131},{"s":"e","w":0.40,"d":120},{"s":"e","w":0.45,"d":108},{"s":"e","w":0.49,"d":99},{"s":"e","w":0.57,"d":84},{"s":"e","w":0.66,"d":71},{"s":"e","w":0.75,"d":58},{"s":"e","w":0.84,"d":45},{"s":"e","w":0.87,"d":40},{"s":"e","w":0.88,"d":37},{"s":"e","w":0.89,"d":38},{"s":"e","w":0.91,"d":34},{"s":"e","w":0.98,"d":25},{"s":"e","w":1.04,"d":18},{"s":"e","w":1.08,"d":13},{"s":"e","w":1.10,"d":12},{"s":"e","w":1.12,"d":16},{"s":"e","w":1.14,"d":26},{"s":"e","w":1.15,"d":32},{"s":"e","w":1.16,"d":34},{"s":"e","w":1.17,"d":26},{"s":"e","w":1.19,"d":18},{"s":"e","w":1.21,"d":10},{"s":"e","w":1.23,"d":7},{"s":"e","w":1.27,"d":1},{"s":"e","w":1.30,"d":-4},{"s":"e","w":1.32,"d":10},{"s":"e","w":1.33,"d":25},{"s":"e","w":1.35,"d":27},{"s":"e","w":1.37,"d":22},{"s":"e","w":1.39,"d":25},{"s":"e","w":1.41,"d":18},{"s":"e","w":1.44,"d":7},{"s":"e","w":1.47,"d":-8},{"s":"e","w":1.50,"d":-14},{"s":"e","w":1.54,"d":-19},{"s":"e","w":1.58,"d":-21},{"s":"e","w":1.60,"d":-20},{"s":"e","w":1.61,"d":-19},{"s":"e","w":1.63,"d":5},{"s":"e","w":1.65,"d":20},{"s":"e","w":1.67,"d":25},{"s":"e","w":1.69,"d":32},{"s":"e","w":1.70,"d":38},{"s":"e","w":1.71,"d":25},{"s":"e","w":1.72,"d":12},{"s":"e","w":1.74,"d":14},{"s":"e","w":1.76,"d":22},{"s":"e","w":1.78,"d":20},{"s":"e","w":1.80,"d":4},{"s":"e","w":1.82,"d":-8},{"s":"e","w":1.85,"d":-10},{"s":"e","w":1.88,"d":-10},{"s":"e","w":1.90,"d":-6},{"s":"e","w":1.91,"d":-14},{"s":"e","w":1.93,"d":-22},{"s":"e","w":1.95,"d":-24},{"s":"e","w":1.98,"d":-30},{"s":"e","w":2.00,"d":-30},{"s":"e","w":2.02,"d":-32},{"s":"e","w":2.04,"d":-40},{"s":"e","w":2.07,"d":-42},{"s":"e","w":2.10,"d":-46},{"s":"e","w":2.12,"d":-40},{"s":"e","w":2.14,"d":-30},{"s":"e","w":2.16,"d":-19},{"s":"e","w":2.18,"d":-5},{"s":"e","w":2.19,"d":3},{"s":"e","w":2.21,"d":20},{"s":"e","w":2.23,"d":25},{"s":"e","w":2.25,"d":45},{"s":"e","w":2.27,"d":30},{"s":"e","w":2.29,"d":38},{"s":"e","w":2.31,"d":14},{"s":"e","w":2.33,"d":40},{"s":"e","w":2.35,"d":43},{"s":"e","w":2.37,"d":36},{"s":"e","w":2.40,"d":40},{"s":"e","w":2.42,"d":35},{"s":"e","w":2.44,"d":32},{"s":"e","w":2.46,"d":29},{"s":"e","w":2.48,"d":10},{"s":"e","w":2.51,"d":-15},{"s":"e","w":2.53,"d":-24},{"s":"e","w":2.55,"d":-12},{"s":"e","w":2.57,"d":-6},{"s":"e","w":2.59,"d":-20},{"s":"e","w":2.62,"d":-32},{"s":"e","w":2.64,"d":-36},{"s":"e","w":2.66,"d":-52},{"s":"e","w":2.68,"d":-20},{"s":"e","w":2.69,"d":-6},{"s":"e","w":2.71,"d":-20},{"s":"e","w":2.73,"d":-32},{"s":"e","w":2.76,"d":-20},{"s":"e","w":2.78,"d":-4},{"s":"e","w":2.80,"d":-15},{"s":"e","w":2.82,"d":-25},{"s":"e","w":2.84,"d":-40},{"s":"e","w":2.86,"d":-48},{"s":"e","w":2.89,"d":-52},{"s":"e","w":2.92,"d":-54},{"s":"e","w":2.95,"d":-48},{"s":"e","w":2.97,"d":-50},{"s":"e","w":3.00,"d":-46},{"s":"e","w":3.02,"d":-55},{"s":"e","w":3.04,"d":-63},{"s":"e","w":3.06,"d":-66},{"s":"e","w":3.09,"d":-68},{"s":"e","w":3.11,"d":-60},{"s":"e","w":3.13,"d":-50},{"s":"e","w":3.15,"d":-32},{"s":"e","w":3.16,"d":-24},{"s":"e","w":3.18,"d":16},{"s":"e","w":3.21,"d":31},{"s":"e","w":3.24,"d":38},{"s":"e","w":3.26,"d":33},{"s":"e","w":3.27,"d":26},{"s":"e","w":3.29,"d":27},{"s":"e","w":3.31,"d":40},{"s":"e","w":3.33,"d":116},{"s":"e","w":3.34,"d":108},{"s":"e","w":3.35,"d":80},{"s":"e","w":3.36,"d":43},{"s":"e","w":3.38,"d":50},{"s":"e","w":3.41,"d":45},{"s":"e","w":3.43,"d":40},{"s":"e","w":3.45,"d":43},{"s":"e","w":3.47,"d":30},{"s":"e","w":3.49,"d":22},{"s":"e","w":3.51,"d":14},{"s":"e","w":3.53,"d":8},{"s":"e","w":3.55,"d":-1},{"s":"e","w":3.58,"d":2},{"s":"e","w":3.61,"d":5},{"s":"e","w":3.63,"d":-8},{"s":"e","w":3.65,"d":-19},{"s":"e","w":3.67,"d":-10},{"s":"e","w":3.69,"d":-15},{"s":"e","w":3.72,"d":-20},{"s":"e","w":3.74,"d":-24},{"s":"e","w":3.77,"d":-28},{"s":"e","w":3.80,"d":-22},{"s":"e","w":3.82,"d":-32},{"s":"e","w":3.84,"d":-10},{"s":"e","w":3.86,"d":-15},{"s":"e","w":3.88,"d":-32},{"s":"e","w":3.91,"d":-40},{"s":"e","w":3.94,"d":-46},{"s":"e","w":3.97,"d":-48},{"s":"e","w":4.00,"d":-52},{"s":"e","w":4.03,"d":-54},{"s":"e","w":4.05,"d":-50},{"s":"e","w":4.08,"d":-57},{"s":"e","w":4.10,"d":-52},{"s":"e","w":4.13,"d":-50},{"s":"e","w":4.15,"d":-46},{"s":"e","w":4.17,"d":-40},{"s":"e","w":4.19,"d":-20},{"s":"e","w":4.21,"d":23},{"s":"e","w":4.23,"d":45},{"s":"e","w":4.25,"d":53},{"s":"e","w":4.27,"d":58},{"s":"e","w":4.29,"d":63},{"s":"e","w":4.31,"d":56},{"s":"e","w":4.33,"d":46},{"s":"e","w":4.36,"d":34},{"s":"e","w":4.40,"d":14},{"s":"e","w":4.43,"d":-2},{"s":"e","w":4.45,"d":-14},{"s":"e","w":4.48,"d":-37},{"s":"e","w":4.50,"d":-45},{"s":"e","w":4.52,"d":-52},{"s":"e","w":4.54,"d":-63},{"s":"e","w":4.555,"d":-43},{"s":"e","w":4.57,"d":-60},{"s":"e","w":4.59,"d":-72},{"s":"e","w":4.60,"d":-56},{"s":"e","w":4.61,"d":-80},{"s":"e","w":4.62,"d":-56},{"s":"e","w":4.635,"d":-79},{"s":"e","w":4.65,"d":-54},{"s":"e","w":4.665,"d":-78},{"s":"e","w":4.68,"d":-53},{"s":"e","w":4.695,"d":-79},{"s":"e","w":4.71,"d":-54},{"s":"e","w":4.725,"d":-78},{"s":"e","w":4.74,"d":-53},{"s":"e","w":4.755,"d":-80},{"s":"e","w":4.77,"d":-56},{"s":"e","w":4.78,"d":-82},{"s":"e","w":4.80,"d":-60},{"s":"e","w":4.82,"d":-72},{"s":"e","w":4.84,"d":-76},{"s":"e","w":4.86,"d":-81},{"s":"e","w":4.88,"d":-90},{"s":"e","w":4.90,"d":-100},{"s":"e","w":4.92,"d":-108},{"s":"e","w":4.94,"d":-110},{"s":"e","w":4.96,"d":-104},{"s":"e","w":4.97,"d":-110},{"s":"e","w":4.99,"d":-115},{"s":"e","w":5.00,"d":-115},
{"s":"f","w":0.24,"d":192},{"s":"f","w":0.27,"d":192.5},{"s":"f","w":0.29,"d":191.5},{"s":"f","w":0.31,"d":189},{"s":"f","w":0.33,"d":185},{"s":"f","w":0.36,"d":179},{"s":"f","w":0.40,"d":171},{"s":"f","w":0.45,"d":160.5},{"s":"f","w":0.50,"d":151},{"s":"f","w":0.58,"d":137},{"s":"f","w":0.66,"d":126},{"s":"f","w":0.75,"d":114},{"s":"f","w":0.84,"d":104},{"s":"f","w":0.92,"d":92},{"s":"f","w":1.00,"d":82},{"s":"f","w":1.06,"d":76},{"s":"f","w":1.12,"d":71},{"s":"f","w":1.14,"d":72},{"s":"f","w":1.16,"d":70},{"s":"f","w":1.19,"d":64},{"s":"f","w":1.25,"d":58},{"s":"f","w":1.31,"d":53},{"s":"f","w":1.33,"d":60},{"s":"f","w":1.36,"d":58},{"s":"f","w":1.40,"d":55},{"s":"f","w":1.44,"d":47},{"s":"f","w":1.48,"d":42},{"s":"f","w":1.52,"d":38},{"s":"f","w":1.57,"d":35},{"s":"f","w":1.61,"d":32},{"s":"f","w":1.63,"d":38},{"s":"f","w":1.65,"d":45},{"s":"f","w":1.68,"d":50},{"s":"f","w":1.71,"d":55},{"s":"f","w":1.72,"d":47},{"s":"f","w":1.74,"d":43},{"s":"f","w":1.76,"d":46},{"s":"f","w":1.79,"d":39},{"s":"f","w":1.82,"d":30},{"s":"f","w":1.86,"d":26},{"s":"f","w":1.89,"d":23},{"s":"f","w":1.93,"d":22},{"s":"f","w":1.96,"d":15},{"s":"f","w":2.00,"d":14},{"s":"f","w":2.02,"d":12},{"s":"f","w":2.06,"d":10},{"s":"f","w":2.10,"d":5},{"s":"f","w":2.13,"d":8},{"s":"f","w":2.16,"d":12},{"s":"f","w":2.19,"d":20},{"s":"f","w":2.21,"d":58},{"s":"f","w":2.23,"d":48},{"s":"f","w":2.25,"d":60},{"s":"f","w":2.27,"d":52},{"s":"f","w":2.30,"d":64},{"s":"f","w":2.32,"d":55},{"s":"f","w":2.34,"d":68},{"s":"f","w":2.36,"d":60},{"s":"f","w":2.37,"d":74},{"s":"f","w":2.39,"d":58},{"s":"f","w":2.41,"d":66},{"s":"f","w":2.43,"d":52},{"s":"f","w":2.46,"d":25},{"s":"f","w":2.50,"d":10},{"s":"f","w":2.53,"d":5},{"s":"f","w":2.56,"d":12},{"s":"f","w":2.58,"d":14},{"s":"f","w":2.60,"d":8},{"s":"f","w":2.63,"d":-2},{"s":"f","w":2.66,"d":10},{"s":"f","w":2.69,"d":16},{"s":"f","w":2.71,"d":6},{"s":"f","w":2.73,"d":-1},{"s":"f","w":2.76,"d":4},{"s":"f","w":2.79,"d":7},{"s":"f","w":2.82,"d":-4},{"s":"f","w":2.85,"d":-15},{"s":"f","w":2.88,"d":-10},{"s":"f","w":2.91,"d":-17},{"s":"f","w":2.94,"d":-13},{"s":"f","w":2.97,"d":-18},{"s":"f","w":3.00,"d":-16},{"s":"f","w":3.03,"d":-20},{"s":"f","w":3.06,"d":-24},{"s":"f","w":3.08,"d":-27},{"s":"f","w":3.10,"d":-25},{"s":"f","w":3.12,"d":-21},{"s":"f","w":3.14,"d":-10},{"s":"f","w":3.16,"d":8},{"s":"f","w":3.18,"d":20},{"s":"f","w":3.21,"d":40},{"s":"f","w":3.23,"d":45},{"s":"f","w":3.25,"d":53},{"s":"f","w":3.27,"d":38},{"s":"f","w":3.28,"d":40},{"s":"f","w":3.30,"d":48},{"s":"f","w":3.32,"d":80},{"s":"f","w":3.33,"d":116},{"s":"f","w":3.34,"d":110},{"s":"f","w":3.35,"d":86},{"s":"f","w":3.36,"d":43},{"s":"f","w":3.37,"d":64},{"s":"f","w":3.39,"d":58},{"s":"f","w":3.42,"d":64},{"s":"f","w":3.44,"d":55},{"s":"f","w":3.46,"d":50},{"s":"f","w":3.48,"d":56},{"s":"f","w":3.50,"d":38},{"s":"f","w":3.51,"d":29},{"s":"f","w":3.54,"d":27},{"s":"f","w":3.58,"d":23},{"s":"f","w":3.60,"d":12},{"s":"f","w":3.63,"d":8},{"s":"f","w":3.67,"d":0},{"s":"f","w":3.70,"d":3},{"s":"f","w":3.73,"d":6},{"s":"f","w":3.76,"d":-2},{"s":"f","w":3.78,"d":-6},{"s":"f","w":3.80,"d":3},{"s":"f","w":3.82,"d":-2},{"s":"f","w":3.84,"d":14},{"s":"f","w":3.85,"d":10},{"s":"f","w":3.87,"d":-6},{"s":"f","w":3.90,"d":-12},{"s":"f","w":3.93,"d":-18},{"s":"f","w":3.95,"d":-21},{"s":"f","w":3.98,"d":-26},{"s":"f","w":4.01,"d":-30},{"s":"f","w":4.04,"d":-32},{"s":"f","w":4.07,"d":-28},{"s":"f","w":4.10,"d":-33},{"s":"f","w":4.13,"d":-32},{"s":"f","w":4.15,"d":-28},{"s":"f","w":4.17,"d":-24},{"s":"f","w":4.19,"d":-10},{"s":"f","w":4.21,"d":33},{"s":"f","w":4.23,"d":48},{"s":"f","w":4.25,"d":55},{"s":"f","w":4.27,"d":60},{"s":"f","w":4.29,"d":64},{"s":"f","w":4.31,"d":58},{"s":"f","w":4.33,"d":48},{"s":"f","w":4.36,"d":35},{"s":"f","w":4.40,"d":16},{"s":"f","w":4.43,"d":5},{"s":"f","w":4.45,"d":-6},{"s":"f","w":4.48,"d":-20},{"s":"f","w":4.50,"d":-32},{"s":"f","w":4.53,"d":-44},{"s":"f","w":4.54,"d":-50},{"s":"f","w":4.555,"d":12},{"s":"f","w":4.57,"d":-20},{"s":"f","w":4.58,"d":-46},{"s":"f","w":4.60,"d":-38},{"s":"f","w":4.62,"d":-55},{"s":"f","w":4.63,"d":-40},{"s":"f","w":4.65,"d":-56},{"s":"f","w":4.66,"d":-41},{"s":"f","w":4.68,"d":-57},{"s":"f","w":4.70,"d":-40},{"s":"f","w":4.72,"d":-56},{"s":"f","w":4.74,"d":-42},{"s":"f","w":4.76,"d":-55},{"s":"f","w":4.77,"d":-50},{"s":"f","w":4.79,"d":-52},{"s":"f","w":4.82,"d":-39},{"s":"f","w":4.85,"d":-55},{"s":"f","w":4.88,"d":-62},{"s":"f","w":4.91,"d":-68},{"s":"f","w":4.94,"d":-72},{"s":"f","w":4.97,"d":-74},{"s":"f","w":5.00,"d":-74}
]},
"encoding":{
"x":{"field":"w","type":"quantitative","scale":{"domain":[0,5.21],"nice":false,"zero":false},
"axis":{"title":"Wavelength (micron)","values":[1,2,3,4,5],"format":"d","grid":true,"gridColor":"#b0b0b0","gridWidth":2.5,"domain":false,"ticks":false,"labelFontSize":32,"labelColor":"#666666","labelPadding":11,"labelFont":"DejaVu Sans","titleFont":"DejaVu Sans","titleFontSize":34,"titleFontWeight":"bold","titleColor":"#666666","titlePadding":11}},
"y":{"field":"d","type":"quantitative","scale":{"domain":[-177.2,209.2],"nice":false,"zero":false},
"axis":{"title":"Relative Transit Depth (ppm)","values":[-150,-100,-50,0,50,100,150,200],"format":"d","grid":true,"gridColor":"#b0b0b0","gridWidth":2.5,"domain":false,"ticks":false,"labelFontSize":32,"labelColor":"#666666","labelPadding":13,"labelFont":"DejaVu Sans","titleFont":"DejaVu Sans","titleFontSize":34,"titleFontWeight":"bold","titleColor":"#666666","titlePadding":16}}
},
"layer":[
{"data":{"name":"spectra"},"mark":{"type":"line","strokeWidth":6,"clip":true,"strokeJoin":"round"},
"encoding":{"color":{"field":"s","type":"nominal","scale":{"domain":["a","b","c","d","e","f"],"range":["#320a5e","#781c6d","#bc3754","#ed6925","#fbb61a","#fcffa4"]},"legend":null}}},
{"data":{"name":"arrow"},"mark":{"type":"trail","color":"#aaaaaa","opacity":1},
"encoding":{"size":{"field":"w","type":"quantitative","scale":{"domain":[2.211,5.2],"range":[15,9],"zero":false},"legend":null}}},
{"data":{"name":"head"},"mark":{"type":"point","shape":"M-1,0.07L0.98,-0.96L1,0.96Z","filled":true,"size":2025,"color":"#aaaaaa","opacity":1,"strokeWidth":0}}
]
}
